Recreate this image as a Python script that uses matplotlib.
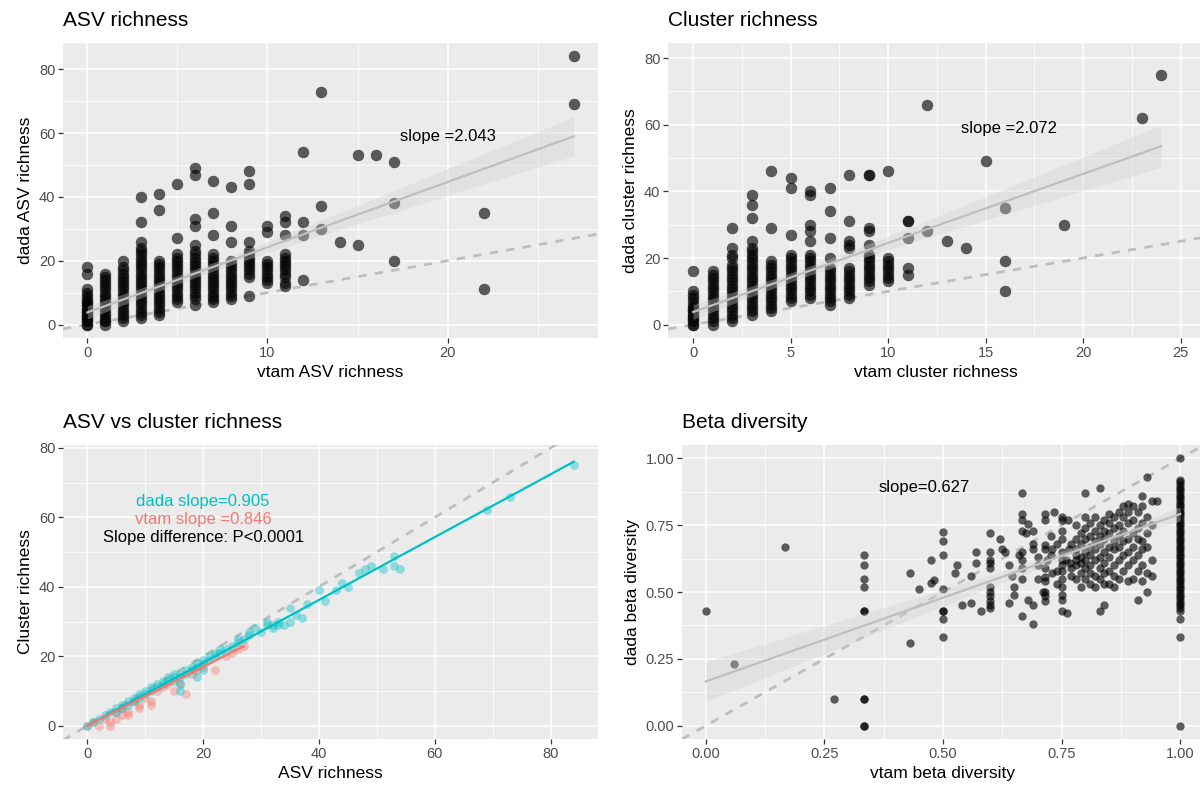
import numpy as np
import matplotlib.pyplot as plt
from matplotlib.ticker import MultipleLocator

plt.rcParams['font.family'] = ['Liberation Sans', 'DejaVu Sans']

# ---- ASV richness (vtam x -> dada y values) ----
asv_vtam = [0, 1, 2, 3, 4, 5, 6, 7, 8, 9, 10, 11, 12, 13, 14, 15, 16, 17, 22, 27]
asv_dada = [
    [0, 0, 1, 1, 2, 2, 3, 3, 4, 4, 5, 5, 6, 6, 7, 7, 8, 9, 10, 11, 16, 18],
    [0, 1, 1, 2, 3, 4, 5, 6, 7, 8, 9, 10, 11, 12, 13, 14, 15, 16],
    [1, 2, 3, 4, 5, 6, 7, 8, 9, 10, 11, 12, 13, 14, 15, 16, 17, 18, 20],
    [2, 3, 4, 5, 6, 7, 8, 9, 10, 11, 12, 13, 14, 15, 16, 17, 18, 19, 20, 21, 22, 23, 24, 26, 32, 40],
    [3, 4, 5, 6, 7, 8, 9, 10, 11, 12, 13, 14, 15, 16, 17, 18, 19, 20, 36, 41],
    [7, 8, 9, 10, 11, 12, 13, 14, 15, 16, 17, 18, 19, 20, 21, 22, 27, 44],
    [6, 8, 9, 10, 11, 12, 13, 14, 15, 16, 17, 18, 19, 20, 21, 22, 23, 25, 31, 33, 47, 49],
    [7, 8, 9, 10, 11, 12, 13, 14, 15, 16, 17, 18, 19, 20, 21, 22, 28, 35, 45],
    [8, 9, 10, 11, 12, 13, 14, 15, 16, 17, 18, 19, 20, 26, 31, 43],
    [9, 15, 16, 17, 18, 19, 20, 21, 22, 23, 26, 44, 48],
    [13, 14, 15, 16, 17, 18, 19, 20, 29, 31],
    [12, 13, 15, 16, 17, 18, 19, 20, 21, 22, 28, 32, 34],
    [14, 28, 32, 54],
    [30, 37, 73],
    [26],
    [25, 53],
    [53],
    [20, 38, 51],
    [11, 35],
    [69, 84],
]
asv_fit = (2.043, 3.8)

# ---- Cluster richness ----
clu_vtam = [0, 1, 2, 3, 4, 5, 6, 7, 8, 9, 10, 11, 12, 13, 14, 15, 16, 19, 23, 24]
clu_dada = [
    [0, 0, 1, 1, 2, 2, 3, 3, 4, 4, 5, 5, 6, 7, 8, 9, 10, 16],
    [0, 1, 2, 3, 4, 5, 6, 7, 8, 9, 10, 11, 12, 13, 14, 15, 16],
    [1, 2, 3, 4, 5, 6, 7, 8, 9, 10, 11, 12, 13, 14, 15, 16, 17, 18, 20, 21, 23, 29],
    [3, 4, 5, 6, 7, 8, 9, 10, 11, 12, 13, 14, 15, 16, 17, 18, 19, 20, 21, 22, 23, 25, 32, 36, 39],
    [4, 5, 6, 7, 8, 9, 10, 11, 12, 13, 14, 15, 16, 17, 18, 19, 29, 46],
    [7, 8, 9, 10, 11, 12, 13, 14, 15, 16, 17, 18, 19, 20, 21, 27, 41, 44],
    [8, 9, 10, 11, 12, 13, 14, 15, 16, 17, 18, 19, 20, 21, 25, 28, 30, 39, 40],
    [6, 7, 8, 9, 10, 11, 12, 13, 14, 15, 16, 17, 20, 26, 34, 41],
    [8, 9, 10, 11, 12, 13, 14, 15, 16, 17, 23, 24, 25, 31, 45],
    [12, 13, 14, 15, 16, 17, 18, 19, 20, 21, 24, 28, 29, 45, 45],
    [13, 14, 15, 16, 17, 18, 19, 20, 46],
    [15, 17, 26, 31, 31],
    [28, 66],
    [25],
    [23],
    [49],
    [10, 19, 35],
    [30],
    [62],
    [75],
]
clu_fit = (2.072, 3.8)

# ---- ASV vs cluster richness ----
vtam_asv = [0, 1, 2, 3, 4, 4, 5, 5, 6, 6, 7, 7, 8, 9, 9, 10, 11, 11, 12, 13, 14, 15, 16, 17, 18, 19, 20, 22, 24, 25, 26, 27]
vtam_clu = [0, 1, 0, 2, 0, 1, 2, 4, 3, 5, 3, 4, 7, 5, 6, 8, 6, 7, 10, 11, 12, 10, 12, 9, 15, 16, 17, 16, 20, 21, 22, 23]
dada_asv = [0, 1, 2, 3, 4, 5, 5, 6, 6, 7, 7, 8, 8, 9, 9, 10, 10, 11, 11, 12, 12, 13, 13, 14, 14, 15, 15, 15,
            16, 16, 16, 16, 17, 17, 18, 18, 19, 19, 19, 20, 20, 20, 21, 21, 22, 22, 23, 23, 24, 25, 26, 26,
            27, 28, 28, 29, 30, 31, 31, 32, 32, 33, 33, 34, 35, 35, 36, 37, 38, 40, 41, 43, 44, 45, 47, 48,
            49, 51, 53, 53, 54, 69, 73, 84]
dada_clu = [0, 1, 2, 3, 4, 4, 5, 5, 6, 6, 7, 7, 8, 8, 9, 9, 10, 10, 11, 11, 12, 12, 13, 13, 14, 13, 14, 15,
            14, 15, 10, 12, 15, 16, 16, 17, 14, 17, 18, 16, 18, 19, 19, 20, 20, 21, 21, 22, 22, 23, 24, 25,
            25, 26, 27, 28, 27, 29, 30, 28, 29, 29, 30, 29, 30, 34, 32, 31, 35, 39, 36, 39, 41, 40, 44, 45,
            46, 45, 49, 46, 45, 62, 66, 75]
dada_slope = 0.905
vtam_slope = 0.846

# ---- Beta diversity (vtam, dada) ----
beta_pairs = [
    (0.0, 0.43), (0.06, 0.23), (0.168, 0.67), (0.27, 0.10), (0.333, 0.10), (0.333, 0.10), (0.333, 0.0),
    (0.333, 0.0), (0.333, 0.43), (0.333, 0.43), (0.333, 0.52), (0.333, 0.55), (0.333, 0.60), (0.333, 0.64),
    (0.43, 0.31), (0.43, 0.57), (0.45, 0.51), (0.475, 0.535), (0.48, 0.545), (0.475, 0.62),
    (0.5, 0.725), (0.5, 0.69), (0.5, 0.64), (0.5, 0.51), (0.5, 0.43), (0.5, 0.43), (0.5, 0.40), (0.5, 0.33),
    (0.525, 0.57), (0.53, 0.60), (0.54, 0.45), (0.56, 0.56), (0.56, 0.46), (0.57, 0.65), (0.57, 0.61),
    (0.58, 0.43), (0.6, 0.72), (0.6, 0.65), (0.6, 0.62), (0.6, 0.61), (0.6, 0.59), (0.6, 0.52), (0.6, 0.50),
    (0.6, 0.485), (0.6, 0.465), (0.6, 0.45), (0.6, 0.44), (0.62, 0.70), (0.625, 0.66), (0.63, 0.65),
    (0.64, 0.46), (0.64, 0.60), (0.645, 0.56), (0.65, 0.52), (0.65, 0.49), (0.66, 0.64),
    (0.667, 0.87), (0.667, 0.79), (0.667, 0.77), (0.667, 0.73), (0.667, 0.65), (0.667, 0.62), (0.667, 0.59),
    (0.667, 0.55), (0.667, 0.41), (0.675, 0.72), (0.68, 0.47), (0.68, 0.755), (0.69, 0.73), (0.69, 0.68),
    (0.69, 0.66), (0.69, 0.45), (0.69, 0.38), (0.70, 0.63), (0.70, 0.55), (0.70, 0.60),
    (0.714, 0.79), (0.714, 0.77), (0.714, 0.675), (0.714, 0.66), (0.714, 0.59), (0.714, 0.555),
    (0.714, 0.54), (0.714, 0.50), (0.714, 0.485), (0.714, 0.465), (0.71, 0.50), (0.72, 0.62),
    (0.727, 0.71), (0.727, 0.64), (0.733, 0.80), (0.73, 0.57), (0.73, 0.66), (0.74, 0.68), (0.74, 0.58),
    (0.74, 0.53), (0.75, 0.78), (0.75, 0.77), (0.75, 0.73), (0.75, 0.70), (0.75, 0.65), (0.75, 0.62),
    (0.75, 0.60), (0.75, 0.58), (0.75, 0.55), (0.75, 0.52), (0.75, 0.49), (0.75, 0.47), (0.75, 0.43),
    (0.762, 0.42), (0.763, 0.77), (0.765, 0.66), (0.767, 0.61), (0.77, 0.56), (0.76, 0.62), (0.77, 0.59),
    (0.77, 0.68), (0.78, 0.55), (0.78, 0.60), (0.78, 0.62), (0.78, 0.64), (0.78, 0.66), (0.78, 0.70),
    (0.78, 0.75), (0.79, 0.52), (0.79, 0.57), (0.79, 0.61), (0.79, 0.63), (0.79, 0.68), (0.79, 0.72),
    (0.80, 0.55), (0.80, 0.59), (0.80, 0.62), (0.80, 0.65), (0.80, 0.70), (0.80, 0.74), (0.80, 0.78),
    (0.80, 0.87), (0.81, 0.53), (0.81, 0.57), (0.81, 0.60), (0.81, 0.64), (0.81, 0.67), (0.81, 0.71),
    (0.81, 0.76), (0.82, 0.52), (0.82, 0.56), (0.82, 0.62), (0.82, 0.66), (0.82, 0.69), (0.82, 0.73),
    (0.82, 0.78), (0.83, 0.43), (0.83, 0.55), (0.83, 0.59), (0.83, 0.63), (0.83, 0.68), (0.83, 0.71),
    (0.83, 0.75), (0.83, 0.89), (0.84, 0.45), (0.84, 0.53), (0.84, 0.57), (0.84, 0.61), (0.84, 0.65),
    (0.84, 0.70), (0.84, 0.73), (0.84, 0.77), (0.85, 0.53), (0.85, 0.58), (0.85, 0.63), (0.85, 0.67),
    (0.85, 0.72), (0.85, 0.76), (0.85, 0.79), (0.86, 0.52), (0.86, 0.56), (0.86, 0.60), (0.86, 0.66),
    (0.86, 0.69), (0.86, 0.74), (0.86, 0.78), (0.87, 0.55), (0.87, 0.62), (0.87, 0.67), (0.87, 0.71),
    (0.87, 0.75), (0.87, 0.80), (0.88, 0.58), (0.88, 0.64), (0.88, 0.69), (0.88, 0.73), (0.88, 0.78),
    (0.88, 0.82), (0.89, 0.54), (0.89, 0.60), (0.89, 0.65), (0.89, 0.70), (0.89, 0.76), (0.89, 0.80),
    (0.89, 0.83), (0.90, 0.55), (0.90, 0.62), (0.90, 0.67), (0.90, 0.72), (0.90, 0.77), (0.90, 0.82),
    (0.91, 0.47), (0.91, 0.58), (0.91, 0.64), (0.91, 0.70), (0.91, 0.74), (0.91, 0.80), (0.92, 0.54),
    (0.92, 0.60), (0.92, 0.66), (0.92, 0.69), (0.92, 0.76), (0.92, 0.82), (0.92, 0.86), (0.93, 0.50),
    (0.93, 0.57), (0.93, 0.67), (0.93, 0.72), (0.93, 0.78), (0.93, 0.93), (0.94, 0.56), (0.94, 0.62),
    (0.94, 0.75), (0.94, 0.84), (0.95, 0.84),
]
beta_one = [0.0, 0.33, 0.40, 0.43, 0.44, 0.45, 0.46, 0.47, 0.48, 0.49, 0.50, 0.51, 0.52, 0.53, 0.54,
            0.55, 0.56, 0.57, 0.58, 0.59, 0.60, 0.61, 0.62, 0.63, 0.64, 0.65, 0.66, 0.67, 0.68, 0.69,
            0.70, 0.71, 0.72, 0.73, 0.74, 0.75, 0.76, 0.77, 0.78, 0.79, 0.80, 0.81, 0.82, 0.83, 0.84,
            0.85, 0.86, 0.87, 0.88, 0.89, 0.90, 0.91, 0.92, 1.0]
beta_fit = (0.627, 0.165)

BG = '#EBEBEB'
TEAL = '#00BFC4'
RED = '#F8766D'
W, H = 1200, 794


def make_ax(fig, l, t, r, b):
    ax = fig.add_axes([l / W, 1 - b / H, (r - l) / W, (b - t) / H])
    ax.set_facecolor(BG)
    for s in ax.spines.values():
        s.set_visible(False)
    ax.grid(which='major', color='white', lw=1.1)
    ax.grid(which='minor', color='white', lw=0.55)
    ax.set_axisbelow(True)
    ax.tick_params(which='major', length=3.5, width=0.9, color='#333333',
                   labelcolor='#4D4D4D', labelsize=10.5, pad=2)
    ax.tick_params(which='minor', length=0)
    return ax


def band(x, y, slope, icpt, xs):
    x = np.asarray(x, float)
    y = np.asarray(y, float)
    res = y - (icpt + slope * x)
    s = np.sqrt(np.sum(res ** 2) / (len(x) - 2))
    xm = x.mean()
    sxx = np.sum((x - xm) ** 2)
    return 1.96 * s * np.sqrt(1 / len(x) + (xs - xm) ** 2 / sxx)


def flatten(xs, ys):
    px, py = [], []
    for xv, col in zip(xs, ys):
        px += [xv] * len(col)
        py += col
    return np.array(px, float), np.array(py, float)


fig = plt.figure(figsize=(12, 7.94), dpi=100)

# panel 1 / 2: richness
panels = [
    (asv_vtam, asv_dada, asv_fit, (63, 43, 598, 338), (-1.35, 28.35), (-4.2, 88.2), 10, 5,
     'ASV richness', 'vtam ASV richness', 'dada ASV richness', 'slope =2.043', (20, 59)),
    (clu_vtam, clu_dada, clu_fit, (668, 43, 1204, 338), (-1.29, 26.2), (-4.0, 84.5), 5, 2.5,
     'Cluster richness', 'vtam cluster richness', 'dada cluster richness', 'slope =2.072', (16.2, 59)),
]
for xs, ys, fit, box, xl, yl, xmaj, xmin, title, xlab, ylab, txt, tpos in panels:
    ax = make_ax(fig, *box)
    px, py = flatten(xs, ys)
    ax.plot(xl, xl, color='#BEBEBE', lw=2, ls=(0, (3, 3)), zorder=2)
    ax.scatter(px, py, s=62, color='black', alpha=0.62, edgecolor='#222222', lw=0.4, zorder=3)
    gx = np.linspace(px.min(), px.max(), 100)
    gy = fit[1] + fit[0] * gx
    e = band(px, py, fit[0], fit[1], gx)
    ax.fill_between(gx, gy - e, gy + e, color='#CFCFCF', alpha=0.35, lw=0, zorder=4)
    ax.plot(gx, gy, color='#BEBEBE', lw=1.6, zorder=5)
    ax.text(tpos[0], tpos[1], txt, ha='center', va='center', fontsize=12, color='black', zorder=6)
    ax.set_xlim(xl)
    ax.set_ylim(yl)
    ax.xaxis.set_major_locator(MultipleLocator(xmaj))
    ax.xaxis.set_minor_locator(MultipleLocator(xmin))
    ax.yaxis.set_major_locator(MultipleLocator(20))
    ax.yaxis.set_minor_locator(MultipleLocator(10))
    ax.set_xlabel(xlab, fontsize=12.5, labelpad=4)
    ax.set_ylabel(ylab, fontsize=12.5, labelpad=4)
    fig.text(box[0] / W, 1 - 20 / H, title, fontsize=15, ha='left', va='center')

# panel 3: ASV vs cluster
ax = make_ax(fig, 63, 445, 598, 739)
ax.plot([-4.2, 88.2], [-4.2, 88.2], color='#BEBEBE', lw=2, ls=(0, (3, 3)), zorder=2)
ax.scatter(vtam_asv, vtam_clu, s=40, color=RED, alpha=0.4, lw=0, zorder=3)
ax.scatter(dada_asv, dada_clu, s=40, color=TEAL, alpha=0.4, lw=0, zorder=3)
gx = np.array([0, max(dada_asv)])
ax.plot(gx, dada_slope * gx, color=TEAL, lw=1.6, zorder=4)
gx = np.array([0, max(vtam_asv)])
ax.plot(gx, vtam_slope * gx, color=RED, lw=1.6, zorder=4)
ax.text(20, 64.5, 'dada slope=0.905', color=TEAL, ha='center', va='center', fontsize=12)
ax.text(20, 59.5, 'vtam slope =0.846', color=RED, ha='center', va='center', fontsize=12)
ax.text(20, 54.3, 'Slope difference: P<0.0001', color='black', ha='center', va='center', fontsize=12)
ax.set_xlim(-4.2, 88.2)
ax.set_ylim(-3.85, 80.85)
ax.xaxis.set_major_locator(MultipleLocator(20))
ax.xaxis.set_minor_locator(MultipleLocator(10))
ax.yaxis.set_major_locator(MultipleLocator(20))
ax.yaxis.set_minor_locator(MultipleLocator(10))
ax.set_xlabel('ASV richness', fontsize=12.5, labelpad=4)
ax.set_ylabel('Cluster richness', fontsize=12.5, labelpad=4)
fig.text(63 / W, 1 - 422 / H, 'ASV vs cluster richness', fontsize=15, ha='left', va='center')

# panel 4: beta diversity
ax = make_ax(fig, 682, 445, 1204, 739)
bx = np.array([p[0] for p in beta_pairs] + [1.0] * len(beta_one))
by = np.array([p[1] for p in beta_pairs] + beta_one)
ax.plot([-0.05, 1.05], [-0.05, 1.05], color='#BEBEBE', lw=2, ls=(0, (3, 3)), zorder=2)
ax.scatter(bx, by, s=36, color='black', alpha=0.62, lw=0, zorder=3)
gx = np.linspace(0, 1, 100)
gy = beta_fit[1] + beta_fit[0] * gx
e = band(bx, by, beta_fit[0], beta_fit[1], gx)
ax.fill_between(gx, gy - e, gy + e, color='#CFCFCF', alpha=0.35, lw=0, zorder=4)
ax.plot(gx, gy, color='#BEBEBE', lw=1.6, zorder=5)
ax.text(0.46, 0.89, 'slope=0.627', ha='center', va='center', fontsize=12)
ax.set_xlim(-0.05, 1.05)
ax.set_ylim(-0.05, 1.05)
ax.xaxis.set_major_locator(MultipleLocator(0.25))
ax.xaxis.set_minor_locator(MultipleLocator(0.125))
ax.yaxis.set_major_locator(MultipleLocator(0.25))
ax.yaxis.set_minor_locator(MultipleLocator(0.125))
ax.xaxis.set_major_formatter(lambda v, p: f'{v:.2f}')
ax.yaxis.set_major_formatter(lambda v, p: f'{v:.2f}')
ax.set_xlabel('vtam beta diversity', fontsize=12.5, labelpad=4)
ax.set_ylabel('dada beta diversity', fontsize=12.5, labelpad=4)
fig.text(682 / W, 1 - 422 / H, 'Beta diversity', fontsize=15, ha='left', va='center')

fig.savefig('out.png', dpi=100, facecolor='white')
